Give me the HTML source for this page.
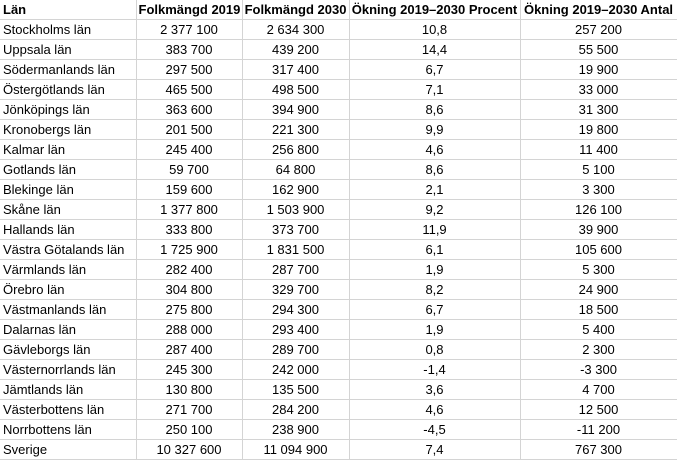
<!DOCTYPE html><html><head><style>
body{margin:0;background:#fff;}
table{border-collapse:collapse;position:absolute;left:0;top:0;width:677px;table-layout:fixed;font-family:"Liberation Sans",sans-serif;font-size:13px;color:#000;}
td{border:1px solid #d4d4d4;height:19px;padding:0 2px;white-space:nowrap;overflow:hidden;text-align:center;line-height:19px;}
td:first-child{text-align:left;border-left:none;padding-left:3px;}
tr:first-child td{border-top:none;font-weight:bold;}
</style></head><body>
<table>
<colgroup><col style="width:136px"><col style="width:106px"><col style="width:107px"><col style="width:171px"><col style="width:157px"></colgroup>
<tr><td>Län</td><td>Folkmängd 2019</td><td>Folkmängd 2030</td><td>Ökning 2019–2030 Procent</td><td>Ökning 2019–2030 Antal</td></tr>
<tr><td>Stockholms län</td><td>2 377 100</td><td>2 634 300</td><td>10,8</td><td>257 200</td></tr>
<tr><td>Uppsala län</td><td>383 700</td><td>439 200</td><td>14,4</td><td>55 500</td></tr>
<tr><td>Södermanlands län</td><td>297 500</td><td>317 400</td><td>6,7</td><td>19 900</td></tr>
<tr><td>Östergötlands län</td><td>465 500</td><td>498 500</td><td>7,1</td><td>33 000</td></tr>
<tr><td>Jönköpings län</td><td>363 600</td><td>394 900</td><td>8,6</td><td>31 300</td></tr>
<tr><td>Kronobergs län</td><td>201 500</td><td>221 300</td><td>9,9</td><td>19 800</td></tr>
<tr><td>Kalmar län</td><td>245 400</td><td>256 800</td><td>4,6</td><td>11 400</td></tr>
<tr><td>Gotlands län</td><td>59 700</td><td>64 800</td><td>8,6</td><td>5 100</td></tr>
<tr><td>Blekinge län</td><td>159 600</td><td>162 900</td><td>2,1</td><td>3 300</td></tr>
<tr><td>Skåne län</td><td>1 377 800</td><td>1 503 900</td><td>9,2</td><td>126 100</td></tr>
<tr><td>Hallands län</td><td>333 800</td><td>373 700</td><td>11,9</td><td>39 900</td></tr>
<tr><td>Västra Götalands län</td><td>1 725 900</td><td>1 831 500</td><td>6,1</td><td>105 600</td></tr>
<tr><td>Värmlands län</td><td>282 400</td><td>287 700</td><td>1,9</td><td>5 300</td></tr>
<tr><td>Örebro län</td><td>304 800</td><td>329 700</td><td>8,2</td><td>24 900</td></tr>
<tr><td>Västmanlands län</td><td>275 800</td><td>294 300</td><td>6,7</td><td>18 500</td></tr>
<tr><td>Dalarnas län</td><td>288 000</td><td>293 400</td><td>1,9</td><td>5 400</td></tr>
<tr><td>Gävleborgs län</td><td>287 400</td><td>289 700</td><td>0,8</td><td>2 300</td></tr>
<tr><td>Västernorrlands län</td><td>245 300</td><td>242 000</td><td>-1,4</td><td>-3 300</td></tr>
<tr><td>Jämtlands län</td><td>130 800</td><td>135 500</td><td>3,6</td><td>4 700</td></tr>
<tr><td>Västerbottens län</td><td>271 700</td><td>284 200</td><td>4,6</td><td>12 500</td></tr>
<tr><td>Norrbottens län</td><td>250 100</td><td>238 900</td><td>-4,5</td><td>-11 200</td></tr>
<tr><td>Sverige</td><td>10 327 600</td><td>11 094 900</td><td>7,4</td><td>767 300</td></tr>
</table>
</body></html>
